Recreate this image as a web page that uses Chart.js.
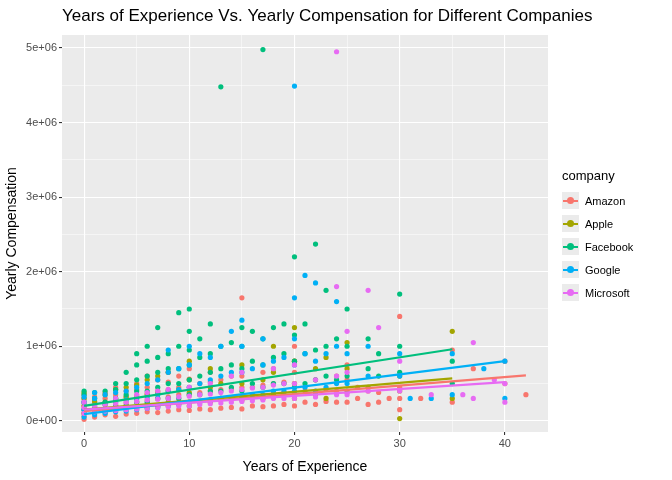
<!DOCTYPE html>
<html><head><meta charset="utf-8">
<script src="https://cdn.jsdelivr.net/npm/chart.js@4"></script>
<style>
body{margin:0;background:#fff;font-family:"Liberation Sans",Arial,sans-serif}
#wrap{position:relative;width:672px;height:480px}
#legend{position:absolute;left:562px;top:168px;font-size:11px;color:#000}
#legend .t{font-size:13px;margin-bottom:6px}
#legend .r{display:flex;align-items:center;height:23px}
#legend .k{width:17px;height:17px;background:#EBEBEB;position:relative;margin-right:6px}
#legend .k i{position:absolute;left:1px;right:1px;top:7.5px;height:2px}
#legend .k b{position:absolute;left:5px;top:5px;width:7px;height:7px;border-radius:50%}
</style></head><body>
<div id="wrap"><canvas id="c" width="672" height="480"></canvas><div id="legend"></div></div>
<script>
const companies=["Amazon","Apple","Facebook","Google","Microsoft"];
const colors=["#F8766D","#A3A500","#00BF7D","#00B0F6","#E76BF3"];
// points: [x, comp in thousands, ...]
const amazon=[[0,[20,60,100,150,200,250,300,350]],[1,[50,120,180,250,320]],[2,[80,150,220,300,380]],[3,[60,140,210,280,350,450]],[4,[90,170,240,320,400]],[5,[100,180,260,340,420,500]],[6,[120,200,280,360,450,600]],[7,[110,200,300,400,550]],[8,[130,220,320,420,520,650]],[9,[150,250,350,450,600]],[10,[140,250,350,450,560,700]],[11,[160,260,380,500]],[12,[150,280,400,520,650]],[13,[170,300,420,550]],[14,[180,300,430,600]],[15,[160,300,450,600,1650]],[16,[200,320,450]],[17,[190,330,480,650]],[18,[200,350,500,700]],[19,[220,380,520]],[20,[200,350,500,650,800,1000]],[21,[250,400]],[22,[220,380,550]],[23,[260,420]],[24,[250,400,600]],[25,[250,380,550,750]],[26,[300,450]],[27,[220,400]],[28,[250,380]],[29,[300]],[30,[150,300,450,1400]],[32,[300]],[35,[250,950]],[37,[700]],[40,[800,500]],[42,[350]]];
const apple=[[0,[100,200,300,380]],[1,[150,260]],[2,[120,250,350]],[3,[180,300,420]],[4,[200,320,450]],[5,[180,300,480]],[6,[220,350,550]],[7,[200,380,600]],[8,[250,400,650]],[9,[230,420]],[10,[200,380,550,800]],[12,[250,450,700]],[13,[300,500]],[15,[280,500,750]],[17,[300,550]],[18,[350,650,1000]],[20,[300,500,800,1250]],[22,[350,700]],[23,[300,850]],[25,[400,700,1050]],[27,[450]],[30,[30,400,600]],[35,[1200,300]]];
const facebook=[[0,[150,250,350,400]],[1,[200,300,380]],[2,[150,250,400]],[3,[200,300,420,500]],[4,[200,350,500,650]],[5,[250,400,550,750,900]],[6,[250,400,600,800,1000]],[7,[300,450,650,850,1250]],[8,[300,500,700,900]],[9,[300,500,700,1000,1450]],[10,[350,550,750,950,1200,1500]],[11,[350,600,850,1100]],[12,[400,650,900,1300]],[13,[400,700,1000,4480]],[14,[450,750,1050]],[15,[400,700,1000,1250]],[16,[500,800,1200]],[17,[450,750,1100,4980]],[18,[500,850,1250]],[19,[500,900,1300]],[20,[450,800,1150,2200]],[21,[500,900,1300]],[22,[550,950,2370]],[23,[600,1000,1750]],[24,[550,1100]],[25,[600,1000,1500]],[27,[700,1100]],[28,[600,900]],[30,[650,1000,1700]],[35,[800,500]]];
const google=[[0,[50,150,250,320]],[1,[80,180,300,380]],[2,[100,220,350]],[3,[120,250,380]],[4,[130,280,400]],[5,[150,300,450]],[6,[170,320,500]],[7,[180,350,550]],[8,[200,400,650,950]],[9,[220,420,700]],[10,[250,450,750,1000]],[11,[250,500,900]],[12,[280,550,850]],[13,[300,600,1000]],[14,[300,650,1200]],[15,[320,650,1000,1350]],[16,[350,700]],[17,[350,750,1100]],[18,[400,800]],[19,[400,850]],[20,[400,750,1100,1650,4490]],[21,[450,900,1950]],[22,[400,800,1850]],[23,[450,900]],[24,[500,1000,1600]],[25,[500,900]],[27,[600,1000]],[30,[600,900]],[31,[300]],[33,[300]],[35,[350,900]],[38,[700]],[40,[800,300]]];
const microsoft=[[0,[100,180,250]],[1,[120,200]],[2,[130,220]],[3,[140,230,300]],[4,[150,250]],[5,[160,260,350]],[6,[170,280,380]],[7,[180,290,400]],[8,[190,300,420]],[9,[200,320]],[10,[200,330,450]],[11,[220,350]],[12,[230,360,500]],[13,[240,380]],[14,[250,400,600]],[15,[260,420,650]],[16,[270,440]],[17,[280,450]],[18,[300,480,700]],[19,[300,500]],[20,[300,500,750]],[22,[320,550]],[24,[350,600,1800,4950]],[25,[350,650,1200]],[27,[400,1750]],[28,[1250]],[30,[400,800]],[33,[350]],[36,[350]],[37,[1050,300]],[39,[550]],[40,[500,250]]];
// regression line endpoints [x0,y0,x1,y1] in thousands
const fitLines=[[0,130,42,610],[0,150,35,570],[0,200,35,960],[0,90,40,800],[0,150,40,520]];
const allPts=[amazon,apple,facebook,google,microsoft];

const datasets=[];
allPts.forEach((grp,i)=>{
  const d=[];grp.forEach(([x,ys])=>ys.forEach(y=>d.push({x:x,y:y*1000})));
  datasets.push({type:'scatter',data:d,backgroundColor:colors[i],borderWidth:0,pointRadius:2.6,order:10-i});
});
fitLines.forEach((l,i)=>{
  datasets.push({type:'line',data:[{x:l[0],y:l[1]*1000},{x:l[2],y:l[3]*1000}],borderColor:colors[i],borderWidth:2.2,pointRadius:0,fill:false,order:-i});
});
const bg={id:'bg',beforeDraw(c){const a=c.chartArea,x=c.ctx;x.save();x.fillStyle='#EBEBEB';x.fillRect(a.left,a.top,a.right-a.left,a.bottom-a.top);x.restore();},
afterDraw(c){const x=c.ctx;x.save();x.fillStyle='#000';x.font='17px "Liberation Sans",Arial';x.textBaseline='alphabetic';x.fillText('Years of Experience Vs. Yearly Compensation for Different Companies',c.chartArea.left,21);x.restore();}};
new Chart(document.getElementById('c'),{
 data:{datasets},
 plugins:[bg],
 options:{responsive:false,animation:false,
  layout:{padding:{top:35,right:124,left:0,bottom:0}},
  plugins:{legend:{display:false},tooltip:{enabled:false}},
  scales:{
   x:{type:'linear',min:-2.1,max:44.1,afterFit:s=>{s.height=48},
    afterBuildTicks:s=>{const t=[];for(let v=0;v<=40;v+=5)t.push({value:v});s.ticks=t;},
    grid:{color:'#fff',lineWidth:c=>c.tick&&c.tick.value%10===0?1.1:0.5,tickColor:c=>c.tick&&c.tick.value%10===0?'#333':'rgba(0,0,0,0)',tickLength:3,drawTicks:true},border:{display:false},
    ticks:{color:'#4D4D4D',font:{size:11},padding:2,callback:v=>v%10===0?String(v):''},
    title:{display:true,text:'Years of Experience',color:'#000',font:{size:14},padding:{top:0}}},
   y:{type:'linear',min:-150000,max:5175000,afterFit:s=>{s.width=62},
    afterBuildTicks:s=>{const t=[];for(let v=0;v<=5e6;v+=5e5)t.push({value:v});s.ticks=t;},
    grid:{color:'#fff',lineWidth:c=>c.tick&&c.tick.value%1e6===0?1.1:0.5,tickColor:c=>c.tick&&c.tick.value%1e6===0?'#333':'rgba(0,0,0,0)',tickLength:3},border:{display:false},
    ticks:{color:'#4D4D4D',font:{size:11},padding:2,callback:v=>v%1e6===0?(v/1e6)+'e+0'+(v===0?'0':'6'):''},
    title:{display:true,text:'Yearly Compensation',color:'#000',font:{size:14},padding:{bottom:2}}}
  }}
});
let h='<div class="t">company</div>';
companies.forEach((n,i)=>{h+=`<div class="r"><div class="k"><i style="background:${colors[i]}"></i><b style="background:${colors[i]}"></b></div>${n}</div>`;});
document.getElementById('legend').innerHTML=h;
</script></body></html>
